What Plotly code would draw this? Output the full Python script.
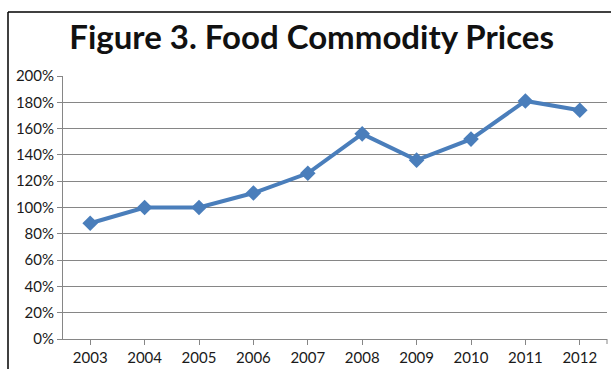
import plotly.graph_objects as go

years = ["2003", "2004", "2005", "2006", "2007", "2008", "2009", "2010", "2011", "2012"]
prices = [0.88, 1.00, 1.00, 1.11, 1.26, 1.56, 1.36, 1.52, 1.81, 1.74]
y_ticks = [0, 0.2, 0.4, 0.6, 0.8, 1.0, 1.2, 1.4, 1.6, 1.8, 2.0]
y_tick_labels = ["0%", "20%", "40%", "60%", "80%", "100%", "120%", "140%", "160%", "180%", "200%"]
title = "Figure 3. Food Commodity Prices"

W, H = 611, 369
L, R, T, B = 63, 4, 76, 30
pw, ph = W - L - R, H - T - B

fig = go.Figure()
fig.add_trace(go.Scatter(
    x=years, y=prices, mode="lines+markers",
    line=dict(color="#4A7EBB", width=4),
    marker=dict(symbol="diamond", size=12, color="#4A7EBB"),
    showlegend=False,
))

# frame border (left and top)
fx = (8 - L) / pw
fy = 1 + (T - 12) / ph
fig.add_shape(type="line", xref="paper", yref="paper", x0=fx, x1=fx, y0=fy, y1=-B / ph - 0.01,
              line=dict(color="#000000", width=1.5))
fig.add_shape(type="line", xref="paper", yref="paper", x0=fx, x1=1 + R / pw + 0.01, y0=fy, y1=fy,
              line=dict(color="#000000", width=1.5))
# right end tick of category axis
fig.add_shape(type="line", xref="paper", yref="paper", x0=1, x1=1, y0=0, y1=-5 / ph,
              line=dict(color="#868686", width=1))

fig.update_layout(
    width=W, height=H,
    margin=dict(l=L, r=R, t=T, b=B),
    paper_bgcolor="white", plot_bgcolor="white",
    title=dict(text="<b>" + title + "</b>", x=0.51, xanchor="center", y=1 - 37 / H, yanchor="middle",
               font=dict(family="Lato", size=33, color="#111111")),
    font=dict(family="Lato", size=15, color="#1a1a1a"),
)
fig.update_xaxes(
    type="category", range=[-0.5, 9.5],
    showline=True, linecolor="#868686", linewidth=1,
    ticks="outside", ticklen=5, tickcolor="#868686",
    showgrid=False, tickfont=dict(size=15),
)
fig.update_yaxes(
    range=[0, 2.0], tickvals=y_ticks, ticktext=y_tick_labels,
    showline=True, linecolor="#868686", linewidth=1,
    ticks="outside", ticklen=5, tickcolor="#868686",
    showgrid=True, gridcolor="#868686", gridwidth=1,
    zeroline=False, tickfont=dict(size=15),
)
fig.write_html("out.html")
